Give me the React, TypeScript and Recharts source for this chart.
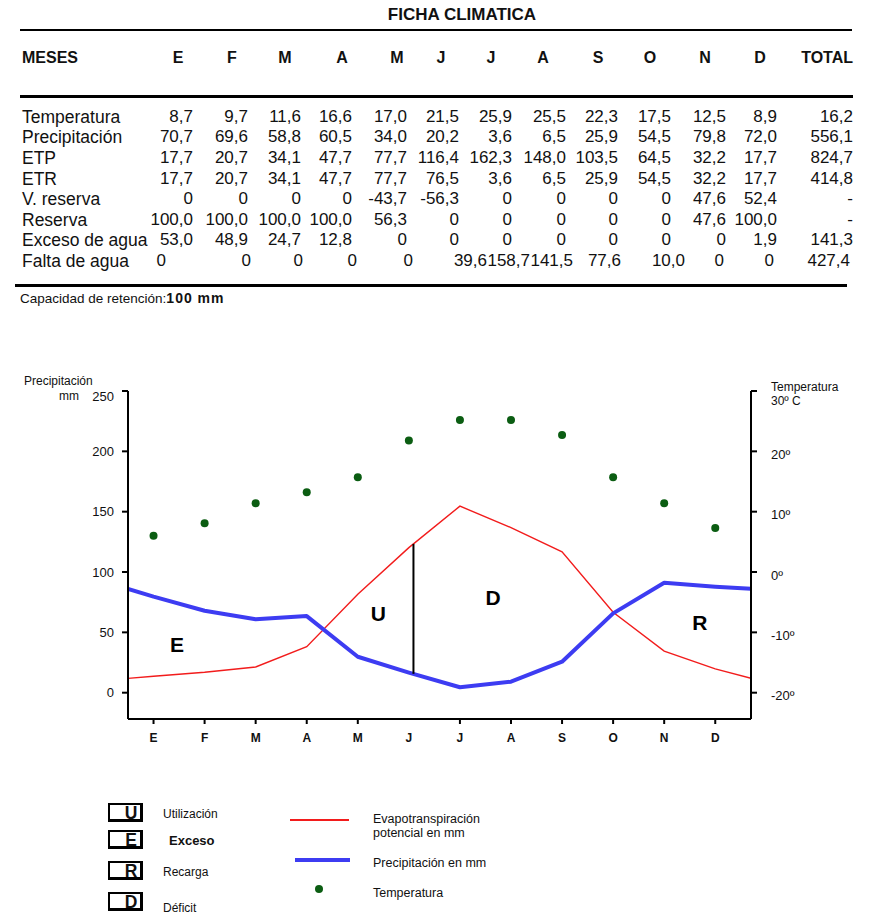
import React from 'react';
import { ComposedChart, Line, XAxis, YAxis, ReferenceLine, ReferenceDot } from 'recharts';

const FONT = '"Liberation Sans", Arial, Helvetica, sans-serif';
const RED = '#f21c1c';
const BLUE = '#3d3cf2';
const GREEN = '#0b5d12';

// ---- ficha climatica (table text, as printed) ----
const MONTHS = ['E', 'F', 'M', 'A', 'M', 'J', 'J', 'A', 'S', 'O', 'N', 'D'];
const temperatura = ['8,7', '9,7', '11,6', '16,6', '17,0', '21,5', '25,9', '25,5', '22,3', '17,5', '12,5', '8,9', '16,2'];
const precipitacion = ['70,7', '69,6', '58,8', '60,5', '34,0', '20,2', '3,6', '6,5', '25,9', '54,5', '79,8', '72,0', '556,1'];
const etp = ['17,7', '20,7', '34,1', '47,7', '77,7', '116,4', '162,3', '148,0', '103,5', '64,5', '32,2', '17,7', '824,7'];
const etr = ['17,7', '20,7', '34,1', '47,7', '77,7', '76,5', '3,6', '6,5', '25,9', '54,5', '32,2', '17,7', '414,8'];
const vReserva = ['0', '0', '0', '0', '-43,7', '-56,3', '0', '0', '0', '0', '47,6', '52,4', '-'];
const reserva = ['100,0', '100,0', '100,0', '100,0', '56,3', '0', '0', '0', '0', '0', '47,6', '100,0', '-'];
const exceso = ['53,0', '48,9', '24,7', '12,8', '0', '0', '0', '0', '0', '0', '0', '1,9', '141,3'];
const falta = ['0', '0', '0', '0', '0', '39,6', '158,7', '141,5', '77,6', '10,0', '0', '0', '427,4'];

const tableRows = [
  { label: 'Temperatura', values: temperatura },
  { label: 'Precipitación', values: precipitacion },
  { label: 'ETP', values: etp },
  { label: 'ETR', values: etr },
  { label: 'V. reserva', values: vReserva },
  { label: 'Reserva', values: reserva },
  { label: 'Exceso de agua', values: exceso },
  { label: 'Falta de agua', values: falta },
];

// layout of the printed table
const COL_RIGHT = [193, 248, 301, 352, 407, 459, 512, 566, 618, 671, 726, 777, 853];
const HEAD_CENTER = [178, 232, 285, 342, 397, 441, 491, 543, 598, 650, 705, 760];
const FALTA_SHIFT = [-27, 3, 2, 5, 6, 28, 18, 7, 3, 14, -2, -3, -3];

const etpPlot = [13.6, 16.9, 21.3, 38.1, 81.5, 120.2, 154.6, 136.8, 116.7, 66.6, 34.5, 19.7];
const precPlot = [79.6, 67.9, 60.8, 63.5, 29.8, 16.7, 4.5, 9.1, 25.7, 65.7, 91.1, 87.8];
const tempPlot = [6.0, 8.1, 11.4, 13.2, 15.7, 21.8, 25.2, 25.2, 22.7, 15.7, 11.4, 7.3];
// value where the lines meet the frame (year boundary)
const etpEdge = 11.9;
const precEdge = 86.1;

const X_MIN = -0.5;
const X_MAX = 11.7;

const chartData = [
  { i: X_MIN, etp: etpEdge, prec: precEdge },
  ...MONTHS.map((_, k) => ({ i: k, etp: etpPlot[k], prec: precPlot[k], temp: tempPlot[k] })),
  { i: X_MAX, etp: etpEdge, prec: precEdge },
];

const lerp = (arr: number[], t: number) => {
  const a = Math.floor(t);
  return arr[a] + (arr[a + 1] - arr[a]) * (t - a);
};

const DIVIDER = 5.09;
const regionLabels = [
  { text: 'E', i: 0.46, v: 40 },
  { text: 'U', i: 4.4, v: 66 },
  { text: 'D', i: 6.65, v: 79 },
  { text: 'R', i: 10.7, v: 58 },
];

const LeftTick = (props: any) => {
  const { x, y, payload } = props;
  const v = payload.value;
  const top = v === 250;
  return (
    <g fontFamily={FONT} fill="#111">
      <text x={x} y={top ? y + 5 : y} textAnchor="end" dominantBaseline="central" fontSize={13}>
        {v}
      </text>
      {top && (
        <>
          <text x={x - 90} y={y - 10} dominantBaseline="central" fontSize={12}>Precipitación</text>
          <text x={x - 55} y={y + 5} dominantBaseline="central" fontSize={12}>mm</text>
        </>
      )}
    </g>
  );
};

const RightTick = (props: any) => {
  const { x, y, payload } = props;
  const v = payload.value;
  if (v === 30) {
    return (
      <g fontFamily={FONT} fill="#111" fontSize={12}>
        <text x={x} y={y - 4} dominantBaseline="central">Temperatura</text>
        <text x={x} y={y + 10} dominantBaseline="central">30º C</text>
      </g>
    );
  }
  return (
    <text x={x} y={y + 3} dominantBaseline="central" fontSize={13} fontFamily={FONT} fill="#111">
      {`${v}º`}
    </text>
  );
};

const MonthTick = (props: any) => {
  const { x, y, payload } = props;
  const k = payload.value;
  return (
    <g>
      {k !== 5 && <line x1={x} x2={x} y1={y - 14} y2={y - 9} stroke="#000" strokeWidth={2} />}
      <text x={x} y={y + 5} textAnchor="middle" dominantBaseline="central" fontSize={12} fontWeight="bold" fontFamily={FONT} fill="#111">
        {MONTHS[k]}
      </text>
    </g>
  );
};

const abs = (left: number, top: number, extra: React.CSSProperties = {}): React.CSSProperties => ({
  position: 'absolute',
  left,
  top,
  whiteSpace: 'nowrap',
  ...extra,
});

function FichaTable() {
  const rowTop = (r: number) => 116.7 + r * 20.6 - 10;
  return (
    <>
      <div style={abs(380, 6, { fontSize: 17, fontWeight: 'bold', width: 164, textAlign: 'center', lineHeight: '18px' })}>
        FICHA CLIMATICA
      </div>
      <div style={abs(20, 29, { width: 832, height: 2, background: '#000' })} />
      <div style={abs(22, 48, { fontSize: 16, fontWeight: 'bold', lineHeight: '20px' })}>MESES</div>
      {MONTHS.map((m, k) => (
        <div key={k} style={abs(HEAD_CENTER[k] - 20, 48, { width: 40, textAlign: 'center', fontSize: 16, fontWeight: 'bold', lineHeight: '20px' })}>
          {m}
        </div>
      ))}
      <div style={abs(853 - 80, 48, { width: 80, textAlign: 'right', fontSize: 16, fontWeight: 'bold', lineHeight: '20px' })}>TOTAL</div>
      <div style={abs(20, 95, { width: 833, height: 3, background: '#000' })} />
      {tableRows.map((row, r) => (
        <React.Fragment key={row.label}>
          <div style={abs(22, rowTop(r), { fontSize: 17.5, lineHeight: '20px' })}>{row.label}</div>
          {row.values.map((v, k) => {
            const shift = row.values === falta ? FALTA_SHIFT[k] : 0;
            return (
              <div key={k} style={abs(COL_RIGHT[k] + shift - 70, rowTop(r), { width: 70, textAlign: 'right', fontSize: 17, lineHeight: '20px' })}>
                {v}
              </div>
            );
          })}
        </React.Fragment>
      ))}
      <div style={abs(15, 284, { width: 832, height: 2.5, background: '#000' })} />
      <div style={abs(20, 290, { fontSize: 13.5, lineHeight: '16px' })}>
        Capacidad de retención:<b style={{ fontSize: 14, letterSpacing: 1 }}>100 mm</b>
      </div>
    </>
  );
}

function Climograph() {
  return (
    <div style={abs(0, 360)}>
      <ComposedChart width={878} height={400} data={chartData} margin={{ top: 31, right: 0, bottom: 11, left: 0 }}>
        <XAxis
          type="number"
          dataKey="i"
          domain={[X_MIN, X_MAX]}
          ticks={MONTHS.map((_, k) => k)}
          allowDataOverflow
          height={30}
          tickSize={5}
          tickMargin={9}
          tickLine={false}
          axisLine={{ stroke: '#000', strokeWidth: 2 }}
          tick={<MonthTick />}
          interval={0}
        />
        <YAxis
          yAxisId="p"
          width={128}
          domain={[-21.8, 250]}
          ticks={[0, 50, 100, 150, 200, 250]}
          allowDataOverflow
          tickSize={6}
          tickMargin={8}
          axisLine={{ stroke: '#000', strokeWidth: 2 }}
          tickLine={{ stroke: '#000', strokeWidth: 2 }}
          tick={<LeftTick />}
          interval={0}
        />
        <YAxis
          yAxisId="t"
          orientation="right"
          width={127}
          domain={[-24.36, 30]}
          ticks={[-20, -10, 0, 10, 20, 30]}
          allowDataOverflow
          tickSize={6}
          tickMargin={14}
          axisLine={{ stroke: '#000', strokeWidth: 2 }}
          tickLine={{ stroke: '#000', strokeWidth: 2 }}
          tick={<RightTick />}
          interval={0}
        />
        <Line
          yAxisId="p"
          type="linear"
          dataKey="etp"
          stroke={RED}
          strokeWidth={1.4}
          dot={false}
          activeDot={false}
          isAnimationActive={false}
        />
        <Line
          yAxisId="p"
          type="linear"
          dataKey="prec"
          stroke={BLUE}
          strokeWidth={4}
          strokeLinejoin="round"
          dot={false}
          activeDot={false}
          isAnimationActive={false}
        />
        <Line
          yAxisId="t"
          type="linear"
          dataKey="temp"
          stroke="none"
          strokeWidth={0}
          dot={{ r: 4, fill: GREEN, stroke: GREEN, strokeWidth: 0 }}
          activeDot={false}
          isAnimationActive={false}
        />
        <ReferenceLine
          yAxisId="p"
          segment={[
            { x: DIVIDER, y: lerp(precPlot, DIVIDER) },
            { x: DIVIDER, y: lerp(etpPlot, DIVIDER) },
          ]}
          stroke="#000"
          strokeWidth={2}
        />
        {regionLabels.map((l) => (
          <ReferenceDot
            key={l.text}
            yAxisId="p"
            x={l.i}
            y={l.v}
            r={0}
            shape={(p: any) => (
              <text x={p.cx} y={p.cy} textAnchor="middle" dominantBaseline="central" fontSize={21} fontWeight="bold" fontFamily={FONT} fill="#000">
                {l.text}
              </text>
            )}
          />
        ))}
      </ComposedChart>
    </div>
  );
}

const legendBoxes = [
  { letter: 'U', text: 'Utilización', top: 803, textY: 814, bold: false },
  { letter: 'E', text: 'Exceso', top: 829.5, textY: 841, bold: true },
  { letter: 'R', text: 'Recarga', top: 860.5, textY: 872, bold: false },
  { letter: 'D', text: 'Déficit', top: 892, textY: 908, bold: false },
];

function Legend() {
  return (
    <>
      {legendBoxes.map((b) => (
        <React.Fragment key={b.letter}>
          <div
            style={abs(108, b.top, {
              width: 30,
              height: 14,
              borderLeft: '2px solid #000',
              borderTop: '2px solid #000',
              borderRight: '3px solid #000',
              borderBottom: '3px solid #000',
            })}
          />
          <div style={abs(121, b.top + 1, { width: 20, textAlign: 'center', fontSize: 17.5, fontWeight: 'bold', lineHeight: '18px' })}>
            {b.letter}
          </div>
          <div
            style={abs(b.bold ? 169 : 163, b.textY - 8, {
              fontSize: b.bold ? 13 : 12,
              fontWeight: b.bold ? 'bold' : 'normal',
              lineHeight: '16px',
            })}
          >
            {b.text}
          </div>
        </React.Fragment>
      ))}
      <div style={abs(290, 819, { width: 59, height: 2, background: RED })} />
      <div style={abs(295, 857.5, { width: 55, height: 4, background: BLUE })} />
      <div style={abs(315, 885, { width: 8, height: 8, borderRadius: 4, background: GREEN })} />
      <div style={abs(373, 811, { fontSize: 12.5, lineHeight: '16px' })}>Evapotranspiración</div>
      <div style={abs(373, 825, { fontSize: 12.5, lineHeight: '16px' })}>potencial en mm</div>
      <div style={abs(373, 855, { fontSize: 12.5, lineHeight: '16px' })}>Precipitación en mm</div>
      <div style={abs(373, 885, { fontSize: 12.5, lineHeight: '16px' })}>Temperatura</div>
    </>
  );
}

export default function App() {
  return (
    <div
      style={{
        position: 'absolute',
        left: 0,
        top: 0,
        width: 878,
        height: 923,
        background: '#fff',
        fontFamily: FONT,
        color: '#111',
        overflow: 'hidden',
      }}
    >
      <FichaTable />
      <Climograph />
      <Legend />
    </div>
  );
}
